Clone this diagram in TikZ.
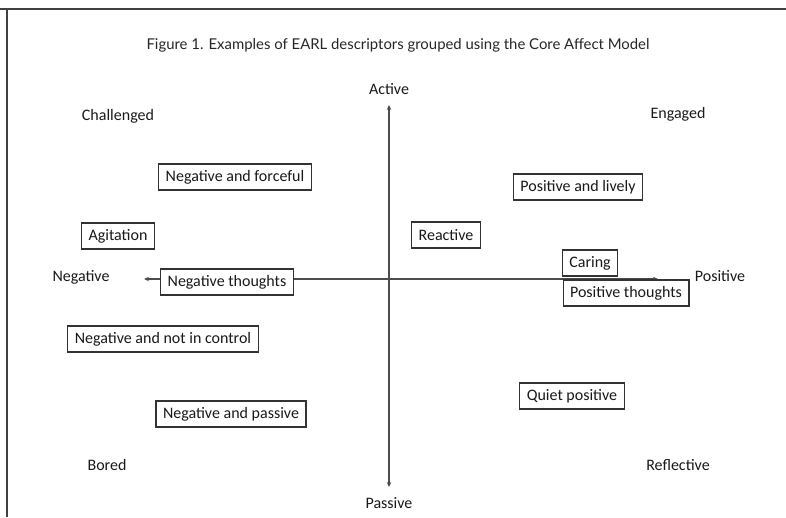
\documentclass[tikz,border=0pt]{standalone}
\usepackage{fontspec}
\setmainfont{Carlito}
\newfontfamily\titlefont{Lato}
\usetikzlibrary{arrows.meta, positioning}

\begin{document}
\begin{tikzpicture}[x=1pt, y=-1pt,
  descbox/.style={draw=black!80, line width=1.1pt, fill=white, inner xsep=7pt,
    minimum height=26pt, text=black!90, font=\fontsize{16}{18}\selectfont},
  label/.style={text=black!90, font=\fontsize{16}{18}\selectfont},
  axis/.style={draw=black!70, line width=1.4pt,
    {Stealth[length=5pt,width=4.5pt]}-{Stealth[length=5pt,width=4.5pt]}}]

\useasboundingbox (0,0) rectangle (786,517);

% Draw page frame
\draw[line width=1.8pt, black!75] (0,9) -- (786,9);
\draw[line width=1.8pt, black!75] (7,9) -- (7,517);

% Title
\node[text=black!85, font=\titlefont\fontsize{14.9}{17}\selectfont] (title) at (398,45)
  {Figure 1. Examples of EARL descriptors grouped using the Core Affect Model};

% Draw axes
\coordinate (north) at (389,105);
\coordinate (south) at (389,487);
\coordinate (west) at (144,279);
\coordinate (east) at (658,279);
\draw[axis] (south) -- (north);
\draw[axis] (west) -- (east);

\node[label] (active) at (389,89) {Active};
\node[label] (passive) at (389,503) {Passive};
\node[label] (negative) at (81,277) {Negative};
\node[label] (positive) at (720,276) {Positive};

% Corner labels
\node[label] (challenged) at (118,116) {Challenged};
\node[label] (engaged) at (678,114) {Engaged};
\node[label] (bored) at (107,465) {Bored};
\node[label] (reflective) at (678,465) {Reflective};

% Descriptor boxes
\node[descbox] (forceful) at (235,177) {Negative and forceful};
\node[descbox] (agitation) at (118,236) {Agitation};
\node[descbox] (negthoughts) at (227,282) {Negative thoughts};
\node[descbox] (notincontrol) at (163,339) {Negative and not in control};
\node[descbox] (negpassive) at (231,414) {Negative and passive};
\node[descbox] (reactive) at (446,235) {Reactive};
\node[descbox] (lively) at (578,187) {Positive and lively};
\node[descbox] (caring) at (590,263) {Caring};
\node[descbox] (posthoughts) at (626,293) {Positive thoughts};
\node[descbox] (quiet) at (572,396) {Quiet positive};

\end{tikzpicture}
\end{document}
